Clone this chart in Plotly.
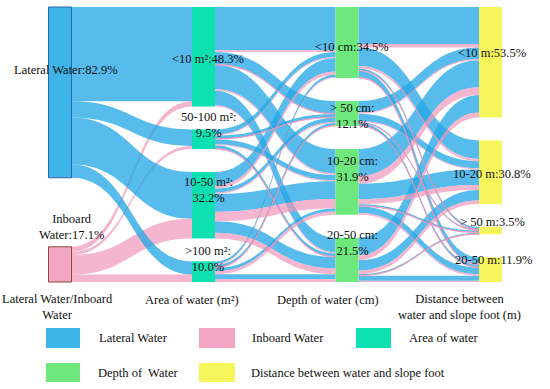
import plotly.graph_objects as go

# ---------------- data ----------------
water_names = ["Lateral Water", "Inboard Water"]
area_names = ["<10 m²", "50-100 m²", "10-50 m²", ">100 m²"]
depth_names = ["<10 cm", ">50 cm", "10-20 cm", "20-50 cm"]
dist_names = ["<10 m", "10-20 m", ">50 m", "20-50 m"]

water_labels = ["Lateral Water:82.9%", "Inboard<br>Water:17.1%"]
area_labels = ["<10 m²:48.3%", "50-100 m²:<br>9.5%", "10-50 m²:<br>32.2%", ">100 m²:<br>10.0%"]
depth_labels = ["<10 cm:34.5%", "> 50 cm:<br>12.1%", "10-20 cm:<br>31.9%", "20-50 cm:<br>21.5%"]
dist_labels = ["<10 m:53.5%", "10-20 m:30.8%", "> 50 m:3.5%", "20-50 m:11.9%"]

# water type -> area of water (%)
lateral_to_area = [45.8, 8.0, 22.7, 6.4]
inboard_to_area = [2.5, 1.5, 9.5, 3.6]

# area -> depth (rows: area, cols: depth), per water type (%)
area_depth_lateral = [[21.0, 6.0, 11.8, 7.0],
                      [2.5, 1.5, 2.5, 1.5],
                      [6.5, 2.0, 8.7, 5.5],
                      [1.2, 1.2, 1.5, 2.5]]
area_depth_inboard = [[0.8, 0.3, 0.8, 0.6],
                      [0.5, 0.2, 0.5, 0.3],
                      [1.5, 0.6, 4.6, 2.8],
                      [0.5, 0.3, 1.5, 1.3]]

# depth -> distance (rows: depth, cols: distance), per water type (%)
depth_dist_lateral = [[18.0, 9.0, 1.0, 3.2],
                      [5.5, 3.5, 0.5, 1.2],
                      [13.0, 7.5, 0.8, 3.2],
                      [8.5, 5.0, 0.6, 2.4]]
depth_dist_inboard = [[1.7, 1.1, 0.1, 0.4],
                      [0.7, 0.5, 0.05, 0.15],
                      [3.8, 2.5, 0.25, 0.85],
                      [2.4, 1.8, 0.2, 0.6]]

column_titles = ["Lateral Water/Inboard<br>Water", "Area of water (m²)",
                 "Depth of water (cm)", "Distance between<br>water and slope foot (m)"]
legend_names = ["Lateral Water", "Inboard Water", "Area of water",
                "Depth of  Water", "Distance between water and slope foot"]

# ---------------- styling ----------------
W, H_FIG = 550, 389
TOP, BOT = 7, 282
PAD = 23
THICK = 23
H = BOT - TOP
col_x_px = [60, 203.5, 347, 490.5]

C_LAT = "#3db5e8"
C_INB = "#f3a6c3"
C_AREA = "#0fe0b2"
C_DEPTH = "#6ee87c"
C_DIST = "#f6f65c"
L_LAT = "rgba(40,168,230,0.78)"
L_INB = "rgba(240,150,185,0.70)"
FONT = "Liberation Serif, Times New Roman, serif"

# ---------------- build nodes/links ----------------
n_area0, n_depth0, n_dist0 = 2, 6, 10
src, tgt, val, lcol = [], [], [], []
for a in range(4):
    for w, vals, c in ((0, lateral_to_area, L_LAT), (1, inboard_to_area, L_INB)):
        src.append(w); tgt.append(n_area0 + a); val.append(vals[a]); lcol.append(c)
for mat, c in ((area_depth_lateral, L_LAT), (area_depth_inboard, L_INB)):
    for a in range(4):
        for d in range(4):
            src.append(n_area0 + a); tgt.append(n_depth0 + d); val.append(mat[a][d]); lcol.append(c)
for mat, c in ((depth_dist_lateral, L_LAT), (depth_dist_inboard, L_INB)):
    for d in range(4):
        for s in range(4):
            src.append(n_depth0 + d); tgt.append(n_dist0 + s); val.append(mat[d][s]); lcol.append(c)

n_nodes = 14
node_val = [0.0] * n_nodes
for s, t, v in zip(src, tgt, val):
    node_val[t] += v
node_val[0] = sum(lateral_to_area)
node_val[1] = sum(inboard_to_area)

ky = (H - 3 * PAD) / 100.0
node_x, node_y = [], []
node_x += [col_x_px[0] / W] * 2
node_y += [(node_val[0] * ky / 2) / H, (H - node_val[1] * ky / 2) / H]
for ci, start in ((1, n_area0), (2, n_depth0), (3, n_dist0)):
    top = 0.0
    for i in range(4):
        v = node_val[start + i] * ky
        node_x.append(col_x_px[ci] / W)
        node_y.append((top + v / 2) / H)
        top += v + PAD

node_colors = [C_LAT, C_INB] + [C_AREA] * 4 + [C_DEPTH] * 4 + [C_DIST] * 4

fig = go.Figure(go.Sankey(
    arrangement="snap",
    domain=dict(x=[0, 1], y=[(H_FIG - BOT) / H_FIG, (H_FIG - TOP) / H_FIG]),
    node=dict(label=[""] * n_nodes, x=node_x, y=node_y, pad=PAD, thickness=THICK,
              color=node_colors, line=dict(color="rgba(0,0,0,0)", width=0)),
    link=dict(source=src, target=tgt, value=val, color=lcol,
              line=dict(color="rgba(0,0,0,0)", width=0)),
    hoverinfo="none",
))

annotations = []
def px(xp, yp):
    return xp / W, 1 - yp / H_FIG

def add_text(text, xp, yp, size=12.5, xanchor="center"):
    x, y = px(xp, yp)
    annotations.append(dict(text=text, x=x, y=y, xref="paper", yref="paper",
                            xanchor=xanchor, yanchor="middle", showarrow=False,
                            font=dict(family=FONT, size=size, color="#111111")))

label_pos = [(66, 70), (71, 227),
             (208, 59), (208, 125), (208, 190), (208, 259),
             (352, 47), (352, 116), (352, 169), (352, 243),
             (492, 53), (492, 174), (492, 222), (493, 260)]
all_labels = water_labels + area_labels + depth_labels + dist_labels
for t, (xp, yp) in zip(all_labels, label_pos):
    add_text(t, xp, yp)

title_pos = [(57, 307), (192, 300), (328, 300), (460, 307)]
for t, (xp, yp) in zip(column_titles, title_pos):
    add_text(t, xp, yp)

shapes = []
# outlines of the two water-type nodes, derived from the computed node geometry
for i, bc in ((0, "#2f64b0"), (1, "#8a4a3c")):
    cy = TOP + node_y[i] * H
    hh = node_val[i] * ky / 2
    shapes.append(dict(type="rect", xref="paper", yref="paper",
                       x0=(col_x_px[0] - THICK / 2) / W, x1=(col_x_px[0] + THICK / 2) / W,
                       y0=1 - (cy + hh) / H_FIG, y1=1 - (cy - hh) / H_FIG,
                       fillcolor="rgba(0,0,0,0)", line=dict(color=bc, width=1)))

leg_rects = [(46, 328, 80, 348), (199, 328, 235, 348), (356, 328, 391, 348),
             (46, 363, 80, 382), (199, 363, 235, 382)]
leg_cols = [C_LAT, C_INB, C_AREA, C_DEPTH, C_DIST]
leg_text_x = [97, 250, 407, 96, 249]
for (x0, y0, x1, y1), c, t, tx in zip(leg_rects, leg_cols, legend_names, leg_text_x):
    shapes.append(dict(type="rect", xref="paper", yref="paper",
                       x0=x0 / W, x1=x1 / W, y0=1 - y1 / H_FIG, y1=1 - y0 / H_FIG,
                       fillcolor=c, line=dict(width=0)))
    add_text(t, tx, (y0 + y1) / 2, xanchor="left")

fig.update_layout(width=W, height=H_FIG, margin=dict(l=0, r=0, t=0, b=0),
                  paper_bgcolor="white", plot_bgcolor="white",
                  annotations=annotations, shapes=shapes,
                  font=dict(family=FONT, size=12.5))
fig.write_html("out.html", config={"displayModeBar": False},
               post_script="document.body.style.margin='0px';")
